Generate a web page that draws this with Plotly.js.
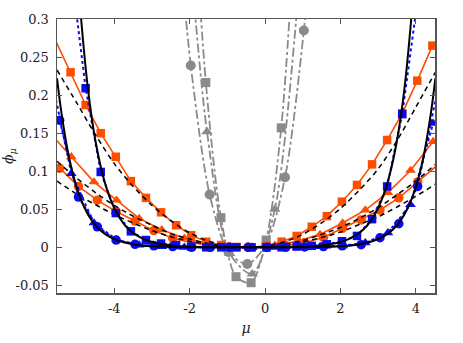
<!DOCTYPE html>
<html><head><meta charset="utf-8">
<script src="https://cdn.plot.ly/plotly-3.0.1.min.js"></script>
<style>html,body{margin:0;padding:0;background:#fff}#chart{width:463px;height:343px}</style>
</head><body><div id="chart"></div>
<script>
// ---- data ----
const orangeSqX = [-5.56,-5.16,-4.76,-4.36,-3.96,-3.56,-3.16,-2.76,-2.36,-1.96,-1.56,-1.16,-0.76,-0.36,0.04,0.44,0.84,1.24,1.64,2.04,2.44,2.84,3.24,3.64,4.04,4.44];
const orangeSqY = [0.272,0.230,0.187,0.150,0.119,0.087,0.065,0.046,0.029,0.016,0.0074,0.003,0.0005,0.0,0.002,0.0074,0.015,0.027,0.041,0.060,0.082,0.109,0.141,0.176,0.219,0.265];

const orangeTriX = [-5.74,-5.14,-4.54,-3.94,-3.34,-2.74,-2.14,-1.54,-0.94,-0.34,0.26,0.86,1.46,2.06,2.66,3.26,3.86,4.46];
const orangeTriY = [0.152,0.119,0.086,0.062,0.038,0.023,0.012,0.005,0.001,0.0,0.0026,0.008,0.017,0.032,0.049,0.072,0.101,0.139];

const orangeCirX = [-5.45,-4.95,-4.45,-3.95,-3.45,-2.95,-2.45,-1.95,-1.45,-0.95,-0.45,0.05,0.55,1.05,1.55,2.05,2.55,3.05,3.55,4.05,4.55];
const orangeCirY = [0.104,0.080,0.062,0.047,0.0345,0.022,0.012,0.006,0.0025,0.0005,0.0,0.0005,0.0025,0.006,0.013,0.025,0.036,0.049,0.065,0.086,0.107];

const blueSqX = [-5.16,-4.76,-4.36,-3.96,-3.56,-3.16,-2.76,-2.36,-1.96,-1.56,-1.16,-0.76,-0.36,0.04,0.44,0.84,1.24,1.64,2.04,2.44,2.84,3.24,3.64,4.04];
const blueSqY = [0.37,0.209,0.099,0.045,0.021,0.0096,0.005,0.003,0.001,0.0,0.0,0.0,0.0,0.0,0.0,0.001,0.002,0.004,0.008,0.015,0.037,0.080,0.175,0.322];

const blueTriX = [-5.74,-5.14,-4.54,-3.94,-3.34,-2.74,-2.14,-1.54,-0.94,-0.34,0.26,0.86,1.46,2.06,2.66,3.26,3.86,4.46];
const blueTriY = [0.24,0.097,0.032,0.010,0.003,0.001,0.0,0.0,0.0,0.0,0.0,0.0,0.001,0.002,0.006,0.019,0.056,0.163];

const blueCirX = [-5.45,-4.95,-4.45,-3.95,-3.45,-2.95,-2.45,-1.95,-1.45,-0.95,-0.45,0.05,0.55,1.05,1.55,2.05,2.55,3.05,3.55,4.05,4.55];
const blueCirY = [0.167,0.066,0.027,0.0096,0.004,0.002,0.001,0.0,0.0,0.0,0.0,0.0,0.0,0.0005,0.001,0.002,0.0035,0.0126,0.031,0.080,0.20];

const grayCirX = [-2.47,-1.97,-1.47,-0.97,-0.47,0.03,0.53,1.03,1.53];
const grayCirY = [0.51,0.239,0.0695,-0.006,-0.022,0.004,0.092,0.285,0.585];
const graySqX = [-1.97,-1.57,-1.17,-0.77,-0.37,0.03,0.43,0.83];
const graySqY = [0.52,0.2165,0.039,-0.0386,-0.0465,0.0096,0.157,0.45];
const grayTriX = [-2.14,-1.54,-0.94,-0.34,0.26,0.86];
const grayTriY = [0.48,0.152,-0.008,-0.035,0.05,0.32];

// fitted curves (black dashed: orange sets; black solid: blue sets)
const fitX = [-5.52,-5.0,-4.5,-4.0,-3.5,-3.0,-2.5,-2.0,-1.5,-1.0,-0.45,0.0,0.5,1.0,1.5,2.0,2.5,3.0,3.5,4.0,4.52];
const fitSqY  = [0.233,0.190,0.148,0.110,0.080,0.055,0.035,0.019,0.008,0.002,0.0,0.0015,0.007,0.017,0.032,0.051,0.075,0.103,0.140,0.184,0.230];
const fitTriY = [0.113,0.091,0.072,0.055,0.041,0.029,0.018,0.011,0.005,0.0013,0.0,0.0009,0.004,0.009,0.017,0.026,0.038,0.052,0.069,0.087,0.109];
const fitCirY = [0.087,0.070,0.056,0.043,0.032,0.022,0.014,0.008,0.004,0.001,0.0,0.0007,0.003,0.007,0.013,0.020,0.030,0.040,0.053,0.067,0.083];

const solidSqX = [-4.95,-4.88,-4.7,-4.5,-4.3,-4.1,-3.9,-3.7,-3.5,-3.2,-2.9,-2.5,-2.0,-1.5,-1.0,-0.5,0.0,0.5,1.0,1.5,1.9,2.2,2.5,2.7,2.9,3.1,3.3,3.5,3.7,3.88,3.95];
const solidSqY = [0.345,0.30,0.209,0.140,0.094,0.063,0.042,0.028,0.019,0.0104,0.0057,0.0025,0.00085,0.00026,0.00005,0.0,0.00005,0.00026,0.00085,0.0025,0.0057,0.0104,0.019,0.028,0.042,0.063,0.094,0.140,0.209,0.30,0.345];
const solidCirX = [-5.52,-5.4,-5.2,-5.0,-4.8,-4.6,-4.4,-4.2,-4.0,-3.7,-3.4,-3.0,-2.5,-2.0,-1.0,-0.5,0.0,1.0,1.5,2.0,2.4,2.7,3.0,3.2,3.4,3.6,3.8,4.0,4.2,4.4,4.52];
const solidCirY = [0.222,0.176,0.118,0.079,0.053,0.0355,0.0238,0.016,0.0107,0.0059,0.0032,0.00145,0.00053,0.00018,0.00002,0.0,0.00002,0.00018,0.00053,0.00145,0.0032,0.0059,0.0107,0.016,0.0238,0.0355,0.053,0.079,0.118,0.176,0.222];

const xTickVals = [-4,-2,0,2,4];
const xTickText = ['-4','-2','0','2','4'];
const yTickVals = [-0.05,0,0.05,0.1,0.15,0.2,0.25,0.3];
const yTickText = ['-0.05','0','0.05','0.1','0.15','0.2','0.25','0.3'];

// ---- styling / building ----
const X_RANGE = [-5.52, 4.51];
const Y_RANGE = [-0.06, 0.3];
const ORANGE = '#ff4d00', BLUE = '#0a0af0', GRAY = '#8a8a8a';
const FONT = '"DejaVu Serif", serif';

function series(xs, ys, color, symbol, size, lineStyle, shape){
  const line = {x: xs, y: ys, mode: 'lines', line: Object.assign({color: color, shape: shape || 'linear'}, lineStyle), hoverinfo: 'skip', showlegend: false};
  const mx = [], my = [];
  xs.forEach((x, i) => { if (x >= X_RANGE[0] && x <= X_RANGE[1]) { mx.push(x); my.push(ys[i]); } });
  const mk = {x: mx, y: my, mode: 'markers', marker: {color: color, symbol: symbol, size: size, line: {width: 0}}, showlegend: false};
  return [line, mk];
}
function curve(xs, ys, color, width, dash){
  return {x: xs, y: ys, mode: 'lines', line: {color: color, width: width, dash: dash, shape: 'spline', smoothing: 0.8}, hoverinfo: 'skip', showlegend: false};
}

const grayStyle = {width: 1.8, dash: 'dashdot', smoothing: 0.8};
const orangeStyle = {width: 1.6};
const blueStyle = {width: 2, dash: 'dot'};

const traces = [].concat(
  series(grayCirX, grayCirY, GRAY, 'circle', 10, grayStyle, 'spline'),
  series(graySqX, graySqY, GRAY, 'square', 9, grayStyle, 'spline'),
  series(grayTriX, grayTriY, GRAY, 'triangle-up', 10, grayStyle, 'spline'),
  series(orangeSqX, orangeSqY, ORANGE, 'square', 8.5, orangeStyle),
  series(orangeTriX, orangeTriY, ORANGE, 'triangle-up', 9.5, orangeStyle),
  series(orangeCirX, orangeCirY, ORANGE, 'circle', 9.5, orangeStyle),
  [curve(fitX, fitSqY, '#000', 1.5, '5px,4px'),
   curve(fitX, fitTriY, '#000', 1.5, '5px,4px'),
   curve(fitX, fitCirY, '#000', 1.5, '5px,4px')],
  series(blueSqX, blueSqY, BLUE, 'square', 8.5, blueStyle),
  series(blueTriX, blueTriY, BLUE, 'triangle-up', 9.5, blueStyle),
  series(blueCirX, blueCirY, BLUE, 'circle', 9.5, blueStyle),
  [curve(solidSqX, solidSqY, '#000', 2, 'solid'),
   curve(solidCirX, solidCirY, '#000', 2, 'solid')]
);

const axisCommon = {
  ticks: 'inside', ticklen: 5, tickwidth: 1, tickcolor: '#555',
  showline: true, linecolor: '#555', linewidth: 1.5, mirror: 'ticks',
  showgrid: false, zeroline: false, automargin: false,
  tickfont: {family: FONT, size: 13, color: '#222'}
};

const layout = {
  width: 463, height: 343,
  margin: {l: 57, r: 28, t: 19, b: 50},
  paper_bgcolor: '#fff', plot_bgcolor: '#fff', showlegend: false,
  font: {family: FONT, size: 13, color: '#222'},
  xaxis: Object.assign({}, axisCommon, {
    range: X_RANGE, tickmode: 'array', tickvals: xTickVals, ticktext: xTickText, ticklabelstandoff: 3,
    title: {text: '<i>μ</i>', standoff: 8, font: {family: FONT, size: 14, color: '#222'}}
  }),
  yaxis: Object.assign({}, axisCommon, {
    range: Y_RANGE, tickmode: 'array', tickvals: yTickVals, ticktext: yTickText, ticklabelstandoff: 4,
    title: {text: '<i>ϕ<sub>μ</sub></i>', standoff: 2, font: {family: FONT, size: 14, color: '#222'}}
  })
};

Plotly.newPlot('chart', traces, layout, {displayModeBar: false, staticPlot: true});
</script>
</body></html>
